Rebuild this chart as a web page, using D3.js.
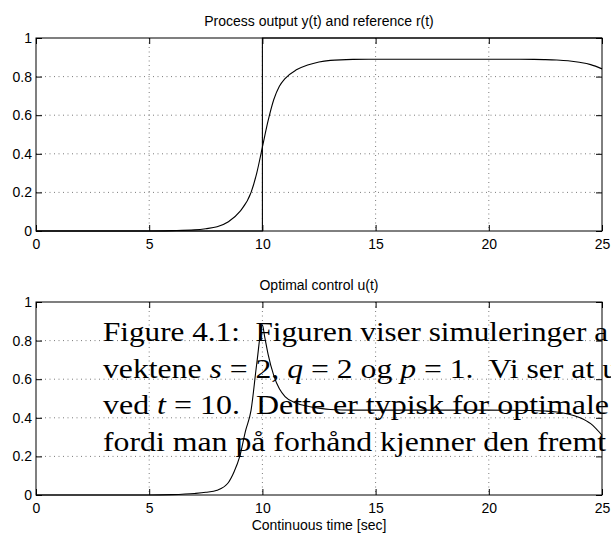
<!DOCTYPE html>
<html>
<head>
<meta charset="utf-8">
<script src="https://cdn.jsdelivr.net/npm/d3@7"></script>
<style>
  body { margin: 0; background: #fff; }
  svg { display: block; }
</style>
</head>
<body>
<svg id="fig" width="611" height="533"></svg>
<script>
// --- data ---
const xTicks = [0, 5, 10, 15, 20, 25];
const yTicks = [0, 0.2, 0.4, 0.6, 0.8, 1];
const yTickLabels = ["0", "0.2", "0.4", "0.6", "0.8", "1"];

// process output y(t)
const outTime  = [0, 5, 6, 7, 7.5, 8, 8.5, 9, 9.5, 9.75, 10, 10.25, 10.5, 10.75, 11, 11.5, 12, 12.5, 13, 14, 15, 20, 22, 22.5, 23, 23.5, 24, 24.5, 25];
const outValue = [0, 0, 0.002, 0.006, 0.012, 0.022, 0.048, 0.1, 0.2, 0.3, 0.435, 0.57, 0.68, 0.75, 0.79, 0.835, 0.86, 0.876, 0.884, 0.889, 0.89, 0.89, 0.889, 0.888, 0.886, 0.882, 0.874, 0.862, 0.84];

// reference r(t), unit step at t = 10
const refTime  = [0, 10, 10, 25];
const refValue = [0, 0, 1, 1];

// optimal control u(t)
const ctrlTime  = [0, 5, 6, 7, 7.5, 8, 8.5, 8.75, 9, 9.25, 9.5, 9.75, 10, 10.1, 10.25, 10.5, 10.75, 11, 11.5, 12, 12.5, 13, 14, 15, 20, 22, 22.5, 23, 23.5, 24, 24.5, 25];
const ctrlValue = [0, 0, 0.002, 0.008, 0.014, 0.025, 0.065, 0.12, 0.2, 0.33, 0.44, 0.68, 0.88, 0.82, 0.73, 0.62, 0.55, 0.51, 0.475, 0.46, 0.45, 0.443, 0.44, 0.44, 0.44, 0.438, 0.435, 0.43, 0.42, 0.402, 0.37, 0.31];

const panelTitles = ["Process output y(t) and reference r(t)", "Optimal control u(t)"];
const xLabel = "Continuous time [sec]";

// caption text lying over the figure, [text, italic]
const captionLines = [
  [["Figure 4.1:  Figuren viser simuleringer a", 0]],
  [["vektene ", 0], ["s", 1], [" = 2, ", 0], ["q", 1], [" = 2 og ", 0], ["p", 1], [" = 1.  Vi ser at u", 0]],
  [["ved ", 0], ["t", 1], [" = 10.  Dette er typisk for optimale", 0]],
  [["fordi man på forhånd kjenner den fremt", 0]]
];
const captionLengths = [505, 515, 506, 503];

// --- layout ---
const plot = { left: 36, width: 566, height: 193 };
const panelTops = [38, 302];
const sansFont = "'Liberation Sans', Arial, Helvetica, sans-serif";

const svg = d3.select('#fig');

function styleAxis(sel) {
    sel.attr('font-size', 14).attr('font-family', sansFont);
    sel.select('.domain').remove();
    sel.selectAll('.tick line').attr('stroke', '#000');
}

function drawPanel(top, title, series) {
    const g = svg.append('g').attr('transform', `translate(${plot.left},${top})`);
    const x = d3.scaleLinear().domain([0, 25]).range([0, plot.width]);
    const y = d3.scaleLinear().domain([0, 1]).range([plot.height, 0]);

    // dotted grid
    g.selectAll('.vgrid').data(xTicks.slice(1, -1)).join('line')
        .classed('vgrid', true)
        .attr('x1', d => x(d)).attr('x2', d => x(d))
        .attr('y1', 0).attr('y2', plot.height)
        .attr('stroke', '#444').attr('stroke-width', 0.7)
        .attr('stroke-dasharray', '1,3.5');
    g.selectAll('.hgrid').data(yTicks.slice(1, -1)).join('line')
        .classed('hgrid', true)
        .attr('y1', d => y(d)).attr('y2', d => y(d))
        .attr('x1', 0).attr('x2', plot.width)
        .attr('stroke', '#444').attr('stroke-width', 0.7)
        .attr('stroke-dasharray', '1,3.5');

    // ticks on all four sides, pointing inwards
    g.append('g').attr('transform', `translate(0,${plot.height})`)
        .call(d3.axisBottom(x).tickValues(xTicks).tickSize(-6).tickPadding(8).tickFormat(d3.format('d')))
        .call(styleAxis);
    g.append('g')
        .call(d3.axisTop(x).tickValues(xTicks).tickSize(-6).tickFormat(''))
        .call(styleAxis);
    g.append('g')
        .call(d3.axisLeft(y).tickValues(yTicks).tickSize(-6).tickPadding(4).tickFormat((d, i) => yTickLabels[i]))
        .call(styleAxis);
    g.append('g').attr('transform', `translate(${plot.width},0)`)
        .call(d3.axisRight(y).tickValues(yTicks).tickSize(-6).tickFormat(''))
        .call(styleAxis);

    // curves
    series.forEach(s => {
        const line = d3.line().x(d => x(d[0])).y(d => y(d[1])).curve(s.curve);
        g.append('path')
            .datum(d3.zip(s.t, s.v))
            .attr('d', line)
            .attr('fill', 'none')
            .attr('stroke', '#000')
            .attr('stroke-width', 1.1);
    });

    // box
    g.append('rect')
        .attr('width', plot.width).attr('height', plot.height)
        .attr('fill', 'none').attr('stroke', '#000').attr('stroke-width', 1);

    g.append('text')
        .attr('x', plot.width / 2).attr('y', -12)
        .attr('text-anchor', 'middle')
        .attr('font-size', 14).attr('font-family', sansFont)
        .text(title);

    return { g, x, y };
}

drawPanel(panelTops[0], panelTitles[0], [
    { t: outTime, v: outValue, curve: d3.curveMonotoneX },
    { t: refTime, v: refValue, curve: d3.curveLinear }
]);
const bottom = drawPanel(panelTops[1], panelTitles[1], [
    { t: ctrlTime, v: ctrlValue, curve: d3.curveMonotoneX }
]);

bottom.g.append('text')
    .attr('x', plot.width / 2).attr('y', plot.height + 35)
    .attr('text-anchor', 'middle')
    .attr('font-size', 14).attr('font-family', sansFont)
    .text(xLabel);

// caption overlay
svg.append('g')
    .attr('font-family', "'Liberation Serif', 'Times New Roman', serif")
    .attr('font-size', 26.5)
    .attr('fill', '#000')
  .selectAll('text').data(captionLines).join('text')
    .attr('x', 103)
    .attr('y', (d, i) => 341 + i * 36.7)
    .attr('textLength', (d, i) => captionLengths[i])
    .attr('lengthAdjust', 'spacingAndGlyphs')
    .style('white-space', 'pre')
  .selectAll('tspan').data(d => d).join('tspan')
    .attr('font-style', d => d[1] ? 'italic' : null)
    .text(d => d[0]);
</script>
</body>
</html>
